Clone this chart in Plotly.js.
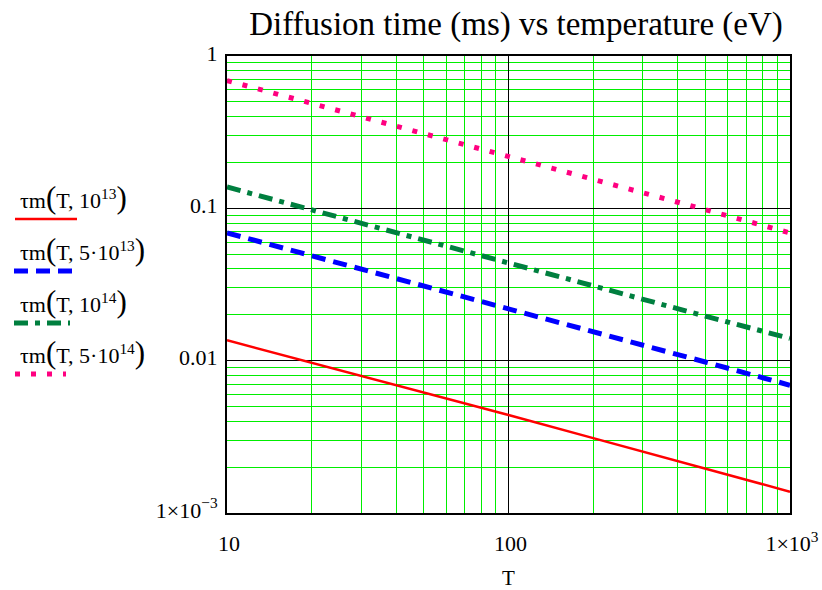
<!DOCTYPE html>
<html><head><meta charset="utf-8">
<script src="https://cdn.plot.ly/plotly-3.0.1.min.js"></script>
<style>body{margin:0;background:#fff}#chart{width:822px;height:590px}</style>
</head><body><div id="chart"></div>
<script>
// Temperature (eV)
const T = [10, 20, 50, 100, 200, 500, 1000];
// Diffusion time (ms)
const tau_1e13 = [0.0136, 0.0097, 0.0062, 0.0044, 0.0031, 0.00196, 0.00138];
const tau_5e13 = [0.069, 0.049, 0.031, 0.022, 0.0155, 0.0098, 0.0069];
const tau_1e14 = [0.138, 0.098, 0.062, 0.044, 0.031, 0.0196, 0.0140];
const tau_5e14 = [0.69, 0.49, 0.31, 0.22, 0.155, 0.098, 0.069];
const seriesNames = ["τm(T, 10<sup>13</sup>)", "τm(T, 5·10<sup>13</sup>)", "τm(T, 10<sup>14</sup>)", "τm(T, 5·10<sup>14</sup>)"];
const xTickVals = [10, 100, 1000];
const xTickText = ["10", "100", "1×10<sup>3</sup>"];
const yTickVals = [0.001, 0.01, 0.1, 1];
const yTickText = ["1×10<sup>−3</sup>", "0.01", "0.1", "1"];
const minorX = [20,30,40,50,60,70,80,90,200,300,400,500,600,700,800,900];
const minorY = [0.002,0.003,0.004,0.005,0.006,0.007,0.008,0.009,0.02,0.03,0.04,0.05,0.06,0.07,0.08,0.09,0.2,0.3,0.4,0.5,0.6,0.7,0.8,0.9];

const colors = ["#ff0000", "#0000ff", "#007f3f", "#ff0080"];
const styles = [
  {width: 2.5, dash: "solid"},
  {width: 5, dash: "14px,8px"},
  {width: 5, dash: "14px,7px,5px,7px"},
  {width: 5, dash: "5px,11px"}
];
const ys = [tau_1e13, tau_5e13, tau_1e14, tau_5e14];
const traces = ys.map((y, i) => ({
  x: T, y: y, type: "scatter", mode: "lines", name: seriesNames[i],
  line: {color: colors[i], width: styles[i].width, dash: styles[i].dash},
  showlegend: false, hoverinfo: "skip"
}));

const serif = "Liberation Serif";
const W = 822, H = 590;
const L = 227, R = 32, TOP = 56, B = 77;
const pw = W - L - R, ph = H - TOP - B;
function px2x(p) { return (p - L) / pw; }
function px2y(p) { return 1 - (p - TOP) / ph; }

const annotations = [];
const shapes = [];
const textY = [197, 249, 301, 352];
const lineY = [219, 271, 323, 374];
const lineX = [[15, 77], [14, 73], [14, 70], [15, 66]];
for (let i = 0; i < 4; i++) {
  const nm = seriesNames[i].replace("(", "<span style='font-size:31px'>(</span>").replace(/\)$/, "<span style='font-size:31px'>)</span>");
  annotations.push({
    xref: "paper", yref: "paper", x: px2x(18), y: px2y(textY[i]),
    xanchor: "left", yanchor: "middle", showarrow: false,
    text: nm, font: {family: serif, size: 22, color: "#000"}
  });
  shapes.push({
    type: "line", xref: "paper", yref: "paper",
    x0: px2x(lineX[i][0]), x1: px2x(lineX[i][1]), y0: px2y(lineY[i]), y1: px2y(lineY[i]),
    line: {color: colors[i], width: styles[i].width, dash: styles[i].dash}
  });
}

const layout = {
  width: W, height: H,
  margin: {l: L, r: R, t: TOP, b: B},
  paper_bgcolor: "#fff", plot_bgcolor: "#fff",
  font: {family: serif, color: "#000", size: 22},
  title: {text: "Diffusion time (ms) vs temperature (eV)", font: {family: serif, size: 33, color: "#000"},
          x: 516 / W, xanchor: "center", xref: "container", y: 1 - 23 / H, yanchor: "middle", yref: "container"},
  xaxis: {
    type: "log", range: [1, 3], tickmode: "array", tickvals: xTickVals, ticktext: xTickText,
    showgrid: true, gridcolor: "#000", gridwidth: 1, ticks: "", ticklabelstandoff: 10, ticklabelshift: 2,
    ticklabeloverflow: "allow",
    showline: true, linecolor: "#000", linewidth: 2, mirror: true, zeroline: false,
    tickfont: {family: serif, size: 22},
    minor: {tickmode: "array", tickvals: minorX, showgrid: true, gridcolor: "#00ee00", gridwidth: 1, ticks: ""},
    title: {text: "T", font: {family: serif, size: 21}, standoff: 15}
  },
  yaxis: {
    type: "log", range: [-3, 0], tickmode: "array", tickvals: yTickVals, ticktext: yTickText,
    showgrid: true, gridcolor: "#000", gridwidth: 1, ticks: "", ticklabelstandoff: 3, ticklabelshift: -3,
    ticklabeloverflow: "allow",
    showline: true, linecolor: "#000", linewidth: 2, mirror: true, zeroline: false,
    tickfont: {family: serif, size: 22},
    minor: {tickmode: "array", tickvals: minorY, showgrid: true, gridcolor: "#00ee00", gridwidth: 1, ticks: ""}
  },
  annotations: annotations,
  shapes: shapes
};

Plotly.newPlot("chart", traces, layout, {staticPlot: true, displayModeBar: false});
</script>
</body></html>
